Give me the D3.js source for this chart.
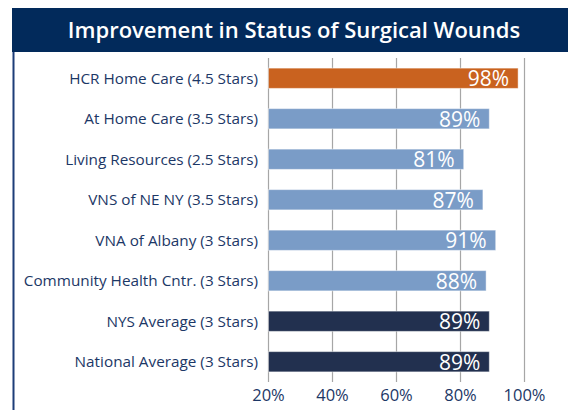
<!DOCTYPE html>
<html>
<head>
<meta charset="utf-8">
<script src="https://cdn.jsdelivr.net/npm/d3@7"></script>
<style>
  body{margin:0;background:#fff;}
  text{font-family:"Open Sans",sans-serif;}
</style>
</head>
<body>
<svg id="chart" width="568" height="410"></svg>
<script>
'use strict';

var categories=[
    'HCR Home Care (4.5 Stars)'
  , 'At Home Care (3.5 Stars)'
  , 'Living Resources (2.5 Stars)'
  , 'VNS of NE NY (3.5 Stars)'
  , 'VNA of Albany (3 Stars)'
  , 'Community Health Cntr. (3 Stars)'
  , 'NYS Average (3 Stars)'
  , 'National Average (3 Stars)'
];
var values=[98,89,81,87,91,88,89,89];
var groups=['hcr','agency','agency','agency','agency','agency','avg','avg'];
var ticks=[20,40,60,80,100];

var colors={hcr:'#c9621f',agency:'#7a9cc7',avg:'#22304f'};

var svg=d3.select('#chart');

// title bar
svg.append('rect')
    .attr('x',12).attr('y',8)
    .attr('width',556).attr('height',44)
    .attr('fill','#022a5b');
svg.append('text')
    .attr('x',294).attr('y',38)
    .attr('text-anchor','middle')
    .attr('fill','#fff')
    .attr('font-size',22)
    .attr('font-weight',600)
    .text('Improvement in Status of Surgical Wounds');

// left border
svg.append('line')
    .attr('x1',13.5).attr('x2',13.5)
    .attr('y1',52).attr('y2',410)
    .attr('stroke','#1d3d78')
    .attr('stroke-width',2);

var x=d3.scaleLinear().domain([20,100]).range([268.5,524.5]);
var y=d3.scaleBand().domain(categories).range([58,382]).paddingInner(0.5).paddingOuter(0.25);

// gridlines
svg.append('g').selectAll('line')
    .data(ticks)
    .join('line')
    .attr('x1',function(d){return x(d);})
    .attr('x2',function(d){return x(d);})
    .attr('y1',58).attr('y2',382)
    .attr('stroke','#a6a6a6')
    .attr('stroke-width',1.2);

// bars
svg.append('g').selectAll('rect')
    .data(values)
    .join('rect')
    .attr('x',x(20))
    .attr('y',function(d,i){return y(categories[i]);})
    .attr('width',function(d){return x(d)-x(20);})
    .attr('height',y.bandwidth())
    .attr('fill',function(d,i){return colors[groups[i]];})
    .attr('stroke','rgba(255,255,255,0.45)')
    .attr('stroke-width',1);

// value labels
svg.append('g').selectAll('text')
    .data(values)
    .join('text')
    .attr('x',function(d){return x(d)-9;})
    .attr('y',function(d,i){return y(categories[i])+y.bandwidth()/2+8;})
    .attr('text-anchor','end')
    .attr('fill','#fff')
    .attr('font-size',21)
    .attr('font-weight',400)
    .text(function(d){return d+'%';});

// category labels
svg.append('g').selectAll('text')
    .data(categories)
    .join('text')
    .attr('x',258)
    .attr('y',function(d){return y(d)+y.bandwidth()/2+5.5;})
    .attr('text-anchor','end')
    .attr('fill','#1c3766')
    .attr('font-size',15.3)
    .text(function(d){return d;});

// x axis tick labels
svg.append('g').selectAll('text')
    .data(ticks)
    .join('text')
    .attr('x',function(d){return x(d);})
    .attr('y',401)
    .attr('text-anchor','middle')
    .attr('fill','#1c3766')
    .attr('font-size',16.5)
    .text(function(d){return d+'%';});
</script>
</body>
</html>
